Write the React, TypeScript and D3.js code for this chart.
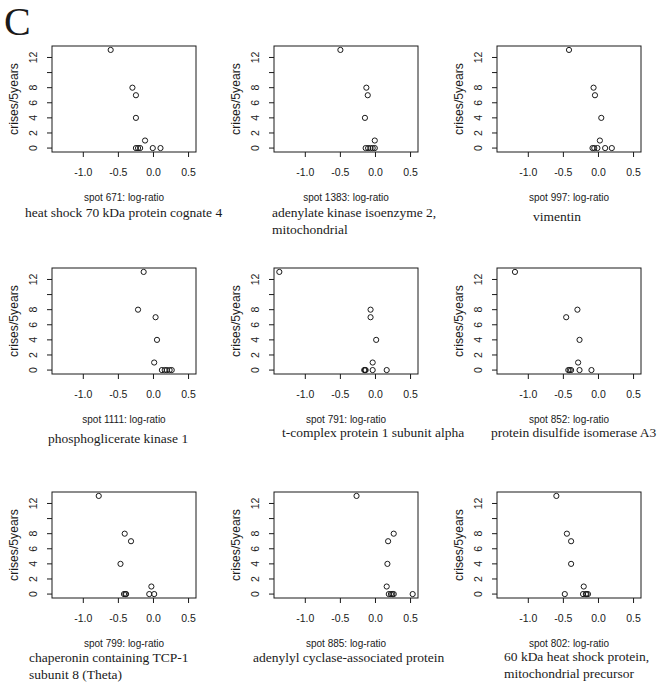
import React from 'react';
import * as d3 from 'd3';

// crises per 5 years, same patients in every panel
const crises = [13, 8, 7, 4, 1, 0, 0, 0, 0, 0];

// log-ratio per spot, in the same patient order as crises
const spot671 = [-0.61, -0.30, -0.25, -0.25, -0.12, -0.25, -0.22, -0.19, -0.01, 0.10];
const spot1383 = [-0.50, -0.13, -0.11, -0.15, -0.01, -0.14, -0.105, -0.07, -0.04, -0.01];
const spot997 = [-0.42, -0.07, -0.05, 0.04, 0.02, -0.085, -0.06, -0.015, 0.095, 0.19];
const spot1111 = [-0.14, -0.22, 0.03, 0.05, 0.01, 0.12, 0.16, 0.19, 0.23, 0.26];
const spot791 = [-1.37, -0.07, -0.07, 0.01, -0.04, -0.16, -0.15, -0.14, -0.04, 0.16];
const spot852 = [-1.19, -0.30, -0.46, -0.27, -0.29, -0.43, -0.41, -0.39, -0.27, -0.10];
const spot799 = [-0.78, -0.41, -0.32, -0.47, -0.03, -0.42, -0.40, -0.39, -0.06, 0.01];
const spot885 = [-0.27, 0.26, 0.18, 0.17, 0.16, 0.19, 0.22, 0.24, 0.26, 0.53];
const spot802 = [-0.60, -0.45, -0.39, -0.39, -0.21, -0.48, -0.22, -0.18, -0.17, -0.15];

const spotIds = ['671', '1383', '997', '1111', '791', '852', '799', '885', '802'];
const spotValues = [spot671, spot1383, spot997, spot1111, spot791, spot852, spot799, spot885, spot802];
const proteinNames = [
  ['heat shock 70 kDa protein cognate 4'],
  ['adenylate kinase isoenzyme 2,', 'mitochondrial'],
  ['vimentin'],
  ['phosphoglicerate kinase 1'],
  ['t-complex protein 1 subunit alpha'],
  ['protein disulfide isomerase A3'],
  ['chaperonin containing TCP-1', 'subunit 8 (Theta)'],
  ['adenylyl cyclase-associated protein'],
  ['60 kDa heat shock protein,', 'mitochondrial precursor'],
];

const xTicks = [-1.0, -0.5, 0.0, 0.5];
const yTicks = [0, 2, 4, 6, 8, 10, 12];
const yLabelled = [0, 2, 4, 6, 8, 12];

// layout
const colLeft = [52, 274, 497];
const rowTop = [46, 268, 492];
const boxW = 144;
const boxH = 106;
// title position relative to box left / box bottom
const titleOffset = [
  [-27, 65], [-2, 65], [36, 69],
  [-4, 69], [8, 63], [-6, 63],
  [-23, 64], [-21, 64], [7, 63],
];

const sans = 'Liberation Sans, Arial, sans-serif';
const serif = 'Liberation Serif, Times New Roman, serif';
const ink = '#1a1a1a';

// R style: data range padded by 4% each side
const pad4 = ([a, b]) => {
  const e = (b - a) * 0.04;
  return [a - e, b + e];
};

const allX = spotValues.flat();
const xDomain = pad4(d3.extent(allX));
const yDomain = pad4(d3.extent(crises));

const Panel = ({ idx }) => {
  const left = colLeft[idx % 3];
  const top = rowTop[Math.floor(idx / 3)];
  const x = d3.scaleLinear().domain(xDomain).range([left, left + boxW]);
  const y = d3.scaleLinear().domain(yDomain).range([top + boxH, top]);
  const bottom = top + boxH;
  const fmt = d3.format('.1f');
  const [tdx, tdy] = titleOffset[idx];

  return (
    <g>
      <rect x={left} y={top} width={boxW} height={boxH} fill="none" stroke={ink} strokeWidth={1} />
      {xTicks.map(t => (
        <g key={'x' + t}>
          <line x1={x(t)} x2={x(t)} y1={bottom} y2={bottom + 5} stroke={ink} />
          <text x={x(t)} y={bottom + 24} textAnchor="middle" fontFamily={sans} fontSize={10.5} fill={ink}>
            {fmt(t).replace('−', '-')}
          </text>
        </g>
      ))}
      {yTicks.map(t => (
        <g key={'y' + t}>
          <line x1={left - 5} x2={left} y1={y(t)} y2={y(t)} stroke={ink} />
          {yLabelled.includes(t) && (
            <text
              transform={`translate(${left - 15},${y(t)}) rotate(-90)`}
              textAnchor="middle"
              fontFamily={sans}
              fontSize={10.5}
              fill={ink}
            >
              {t}
            </text>
          )}
        </g>
      ))}
      <text
        transform={`translate(${left - 34},${top + boxH / 2}) rotate(-90)`}
        textAnchor="middle"
        fontFamily={sans}
        fontSize={12.2}
        fill={ink}
      >
        crises/5years
      </text>
      <text x={left + boxW / 2} y={bottom + 49} textAnchor="middle" fontFamily={sans} fontSize={10} fill={ink}>
        {`spot ${spotIds[idx]}: log-ratio`}
      </text>
      {proteinNames[idx].map((line, i) => (
        <text key={i} x={left + tdx} y={bottom + tdy + i * 17} fontFamily={serif} fontSize={13.5} fill={ink}>
          {line}
        </text>
      ))}
      {spotValues[idx].map((v, i) => (
        <circle key={i} cx={x(v)} cy={y(crises[i])} r={2.6} fill="none" stroke={ink} strokeWidth={1} />
      ))}
    </g>
  );
};

const App = () => (
  <svg
    width={664}
    height={689}
    style={{ position: 'absolute', left: 0, top: 0, background: '#fff' }}
  >
    <rect width={664} height={689} fill="#fff" />
    <text x={4} y={35} fontFamily={serif} fontSize={40} fill={ink}>C</text>
    {spotIds.map((s, i) => (
      <Panel key={s} idx={i} />
    ))}
  </svg>
);

export default App;
